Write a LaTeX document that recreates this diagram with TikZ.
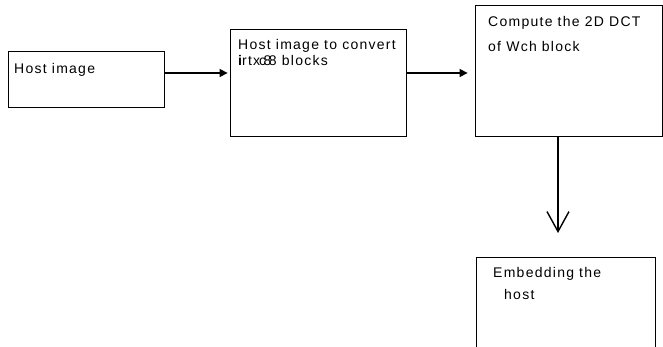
\documentclass[tikz,border=0pt]{standalone}
\usepackage{fontspec}
\setmainfont[LetterSpace=9]{Liberation Sans}
\usetikzlibrary{arrows.meta}
\begin{document}
\begin{tikzpicture}[x=1pt,y=-1pt,blk/.style={draw=black,line width=0.8pt,inner sep=0pt},txt/.style={anchor=base west,inner sep=0pt,font=\fontsize{14}{16}\selectfont},arr/.style={line width=1.2pt,-{Triangle[length=8pt,width=8pt]}},arrV/.style={line width=1.4pt,-{Straight Barb[length=20pt,width=22pt,line width=1.4pt]}}]
\useasboundingbox (0,0) rectangle (663,347);

% boxes
\node[blk,minimum width=156pt,minimum height=56pt] (A) at (86,79) {};
\node[blk,minimum width=176pt,minimum height=107pt] (B) at (318,82.5) {};
\node[blk,minimum width=187pt,minimum height=131pt] (C) at (568.5,70.5) {};
\node[blk,minimum width=179pt,minimum height=110pt] (D) at (565.5,312) {};

% texts
\node[txt] (A1) at (14,73.5) {Host image};
\node[txt] (B1) at (238,49.5) {Host image to convert};
\node[txt] (B2) at (238,65.5) {{\bfseries i}rtx\kern-1pt c\kern-2.5pt 8\kern-2.5pt 8 blocks};
\node[txt] (C1) at (488,27) {Compute the 2D DCT};
\node[txt] (C2) at (488,52) {of Wch block};
\node[txt] (D1) at (493,277) {Embedding the};
\node[txt] (D2) at (504,299) {host};

% arrows
\coordinate (r1) at (0,73);
\coordinate (c1) at (558,233);
\draw[arr,shorten >=2pt] (A.east |- r1) -- (B.west |- r1);
\draw[arr,shorten >=7pt] (B.east |- r1) -- (C.west |- r1);
\draw[arrV] (C.south -| c1) -- (c1);
\end{tikzpicture}
\end{document}
